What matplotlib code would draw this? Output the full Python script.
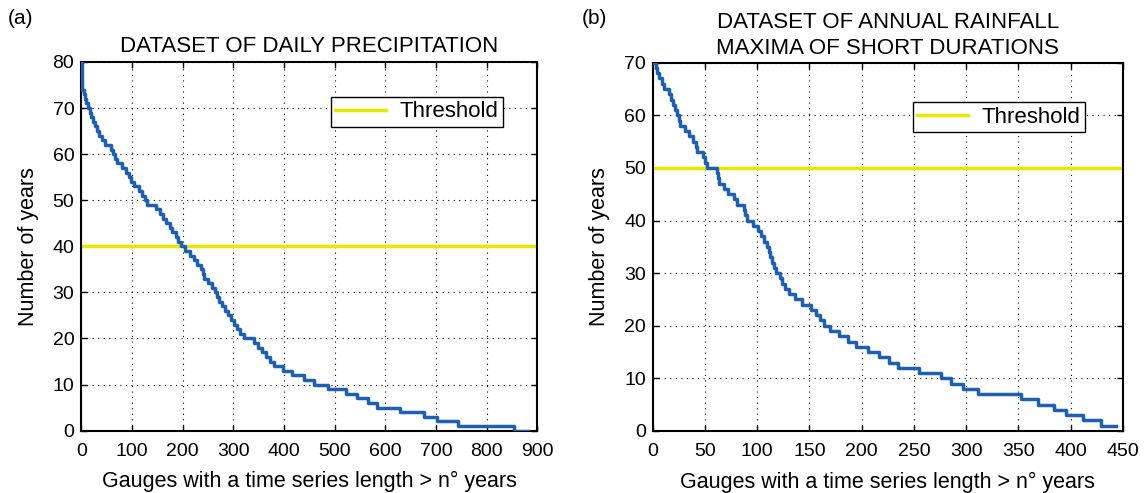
import matplotlib
matplotlib.use("Agg")
import matplotlib.pyplot as plt

plt.rcParams['font.family'] = ['Liberation Sans', 'DejaVu Sans']

# (a) daily precipitation: step levels (years) and gauge count where each level starts
daily_years = [80, 74, 73, 72, 71, 70, 69, 68, 67, 66, 65, 64, 63, 62, 61, 60, 59, 58, 57,
               56, 55, 54, 53, 52, 51, 50, 49, 48, 47, 46, 45, 44, 43, 42, 41, 40, 39, 38,
               37, 36, 35, 34, 33, 32, 31, 30, 29, 28, 27, 26, 25, 24, 23, 22, 21, 20, 19,
               18, 17, 16, 15, 14, 13, 12, 11, 10, 9, 8, 7, 6, 5, 4, 3, 2, 1, 0, 0]
daily_gauges = [0, 2, 5, 7, 10, 13, 17, 20, 23, 27, 31, 36, 40, 46, 58, 63, 67, 71, 80,
                88, 94, 99, 105, 114, 120, 125, 130, 148, 155, 162, 168, 175, 180, 186, 191, 197, 205, 215,
                222, 228, 236, 240, 243, 250, 258, 263, 267, 272, 278, 284, 290, 296, 301, 308, 313, 322, 340,
                348, 357, 364, 372, 381, 398, 415, 440, 460, 486, 522, 545, 565, 583, 629, 677, 702, 744, 854, 882]
daily_threshold = 40

# (b) annual maxima of short durations
short_years = [70, 69, 68, 67, 66, 65, 64, 63, 62, 61, 60, 59, 58, 57, 56, 55, 54, 53, 52,
               51, 50, 49, 48, 47, 46, 45, 44, 43, 42, 41, 40, 39, 38, 37, 36, 35, 34, 33,
               32, 31, 30, 29, 28, 27, 26, 25, 24, 23, 22, 21, 20, 19, 18, 17, 16, 15, 14,
               13, 12, 11, 10, 9, 8, 7, 6, 5, 4, 3, 2, 1, 1]
short_gauges = [0, 3, 4, 6, 9, 11, 15, 17, 19, 21, 23, 25, 26, 31, 35, 38, 41, 42, 48,
                50, 52, 61, 62, 63, 68, 72, 78, 81, 87, 88, 90, 96, 101, 104, 106, 109, 111, 112,
                114, 116, 118, 122, 124, 127, 130, 136, 143, 151, 156, 160, 164, 170, 178, 187, 195, 206, 217,
                226, 235, 255, 276, 286, 297, 311, 353, 369, 384, 396, 412, 429, 444]
short_threshold = 50

blue = '#1f5fb0'
yellow = '#e8e800'

fig = plt.figure(figsize=(11.46, 4.93), dpi=100)
ax1 = fig.add_axes([0.0709, 0.1264, 0.398, 0.748])
ax2 = fig.add_axes([0.5697, 0.1258, 0.41, 0.747])


def style(ax, xmax, ymax, xstep):
    ax.set_xlim(0, xmax)
    ax.set_ylim(0, ymax)
    ax.set_xticks(range(0, xmax + 1, xstep))
    ax.set_yticks(range(0, ymax + 1, 10))
    ax.grid(True, linestyle=(0, (1, 4)), color='black', linewidth=0.8)
    ax.tick_params(direction='in', top=True, right=True, labelsize=14, length=4, width=1)
    ax.tick_params(axis='x', pad=9)
    ax.tick_params(axis='y', pad=5)
    for s in ax.spines.values():
        s.set_linewidth(1.5)
    ax.set_ylabel('Number of years', fontsize=15.5, labelpad=10)
    ax.set_xlabel('Gauges with a time series length > n° years', fontsize=15.5, labelpad=8)


ax1.step(daily_gauges, daily_years, where='post', color=blue, lw=2.5, zorder=3)
ax1.axhline(daily_threshold, color=yellow, lw=2.5, label='Threshold', zorder=2)
style(ax1, 900, 80, 100)
ax1.set_title('DATASET OF DAILY PRECIPITATION', fontsize=16, pad=7)
leg = ax1.legend(loc='upper right', bbox_to_anchor=(0.925, 0.905), fontsize=16,
                 fancybox=False, edgecolor='black', framealpha=1, handlelength=2.3,
                 borderpad=0.2, handletextpad=0.6, borderaxespad=0)
leg.get_frame().set_linewidth(1)

ax2.step(short_gauges, short_years, where='post', color=blue, lw=2.5, zorder=3)
ax2.axhline(short_threshold, color=yellow, lw=2.5, label='Threshold', zorder=2)
style(ax2, 450, 70, 50)
ax2.set_title('DATASET OF ANNUAL RAINFALL\nMAXIMA OF SHORT DURATIONS', fontsize=16, pad=6,
              linespacing=1.35)
leg = ax2.legend(loc='upper right', bbox_to_anchor=(0.92, 0.893), fontsize=16,
                 fancybox=False, edgecolor='black', framealpha=1, handlelength=2.3,
                 borderpad=0.2, handletextpad=0.6, borderaxespad=0)
leg.get_frame().set_linewidth(1)

fig.text(0.007, 0.952, '(a)', fontsize=15)
fig.text(0.508, 0.952, '(b)', fontsize=15)

fig.savefig('out.png', dpi=100)
